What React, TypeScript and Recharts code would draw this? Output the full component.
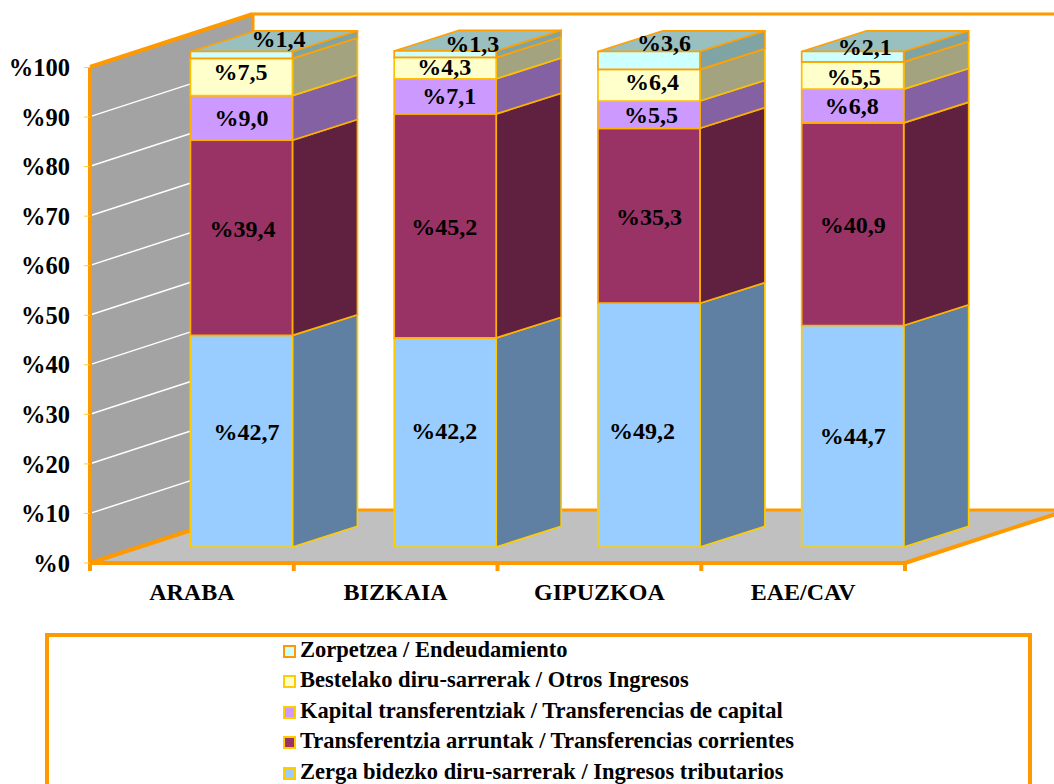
import React from 'react';
import { BarChart, Bar, XAxis, YAxis, Legend, LabelList, Customized } from 'recharts';

const categories = ['ARABA', 'BIZKAIA', 'GIPUZKOA', 'EAE/CAV'];
const tributarios = [42.7, 42.2, 49.2, 44.7];
const corrientes = [39.4, 45.2, 35.3, 40.9];
const capital = [9.0, 7.1, 5.5, 6.8];
const otros = [7.5, 4.3, 6.4, 5.5];
const endeudamiento = [1.4, 1.3, 3.6, 2.1];
const yTicks = [0, 10, 20, 30, 40, 50, 60, 70, 80, 90, 100];

const rows = categories.map((name, i) => ({
  name,
  tributarios: tributarios[i],
  corrientes: corrientes[i],
  capital: capital[i],
  otros: otros[i],
  endeudamiento: endeudamiento[i],
}));

const FONT = '"Liberation Serif", "Times New Roman", serif';
const ORANGE = '#FF9900';
const W = 1054;
const H = 784;
const PLOT = { left: 90, right: 905, top: 67, bottom: 563 };
const DEPTH = { dx: 163, dy: 53 };
const BAR_SHIFT = { x: 49.5, y: -16 };
const BAR_DEPTH = { dx: 65, dy: 20.7 };

// hand-placed label offsets from the centre of each front face, as in the original chart
const NUDGE: Record<string, [number, number][]> = {
  tributarios: [[5, -9], [-1, -11], [-7, 6], [0, 0]],
  corrientes: [[1, -9], [-1, 1], [0, 1], [0, 1]],
  capital: [[0, 0], [4, 0], [2, 0], [-1, 0]],
  otros: [[-1, -5], [-1, -1], [3, -3], [1, 1]],
  endeudamiento: [[37, -16], [27, -10], [15, -17], [12, -10]],
};

const fmt = (v: number) => '%' + v.toFixed(1).replace('.', ',');

function Backdrop() {
  const { left, right, top, bottom } = PLOT;
  const { dx, dy } = DEPTH;
  const pxPerUnit = (bottom - top) / 100;
  const band = (right - left) / categories.length;
  const backY = bottom - dy;
  return (
    <g>
      <polygon points={`${left},${top} ${left + dx},${top - dy} ${left + dx},${backY} ${left},${bottom}`} fill="#A3A3A3" />
      <polygon points={`${left},${bottom} ${left + dx},${backY} ${right + dx},${backY} ${right},${bottom}`} fill="#C0C0C0" />
      {yTicks.slice(1, -1).map((t) => {
        const y = bottom - t * pxPerUnit;
        return <line key={t} x1={left} y1={y} x2={left + dx} y2={y - dy} stroke="#FFFFFF" strokeWidth={1.5} />;
      })}
      <line x1={left} y1={top} x2={left + dx} y2={top - dy} stroke={ORANGE} strokeWidth={4} />
      <line x1={left + dx} y1={top - dy} x2={W} y2={top - dy} stroke={ORANGE} strokeWidth={3} />
      <line x1={left + dx} y1={top - dy} x2={left + dx} y2={backY} stroke={ORANGE} strokeWidth={3} />
      <line x1={left} y1={bottom} x2={left + dx} y2={backY} stroke={ORANGE} strokeWidth={4} />
      <line x1={left + dx} y1={backY} x2={W} y2={backY} stroke={ORANGE} strokeWidth={3} />
      <line x1={right} y1={bottom} x2={right + dx} y2={backY} stroke={ORANGE} strokeWidth={4} />
      {[0, 1, 2, 3, 4].map((i) => (
        <line key={i} x1={left + band * i} y1={bottom} x2={left + band * i} y2={bottom + 8} stroke={ORANGE} strokeWidth={4} />
      ))}
    </g>
  );
}

function Bar3D(props: any) {
  const { x, y, width, height, frontFill, sideFill, topFill, edge } = props;
  const fx = x + BAR_SHIFT.x;
  const fy = y + BAR_SHIFT.y;
  const { dx, dy } = BAR_DEPTH;
  const r = fx + width;
  const b = fy + height;
  return (
    <g stroke={edge} strokeWidth={1.7} strokeLinejoin="round">
      <polygon points={`${r},${fy} ${r + dx},${fy - dy} ${r + dx},${b - dy} ${r},${b}`} fill={sideFill} />
      {topFill ? <polygon points={`${fx},${fy} ${fx + dx},${fy - dy} ${r + dx},${fy - dy} ${r},${fy}`} fill={topFill} /> : null}
      <rect x={fx} y={fy} width={width} height={height} fill={frontFill} />
    </g>
  );
}

function makeLabel(key: string) {
  return function SegmentLabel(props: any) {
    const { x, y, width, height, value, index } = props;
    const [nx, ny] = NUDGE[key][index];
    return (
      <text
        x={x + BAR_SHIFT.x + width / 2 + nx}
        y={y + BAR_SHIFT.y + height / 2 + ny}
        textAnchor="middle"
        dominantBaseline="central"
        fontFamily={FONT}
        fontWeight="bold"
        fontSize={24}
        fill="#000000"
      >
        {fmt(value)}
      </text>
    );
  };
}

function LegendBox(props: any) {
  const items = [...(props.payload || [])].reverse();
  return (
    <div
      style={{
        position: 'absolute',
        left: 0,
        top: 0,
        width: '100%',
        height: '100%',
        boxSizing: 'border-box',
        border: `4px solid ${ORANGE}`,
        fontFamily: FONT,
        fontWeight: 'bold',
        fontSize: 22.5,
        color: '#000',
      }}
    >
      {items.map((it: any, i: number) => (
        <div key={it.value} style={{ position: 'absolute', left: 234, top: -2 + i * 30.4, height: 30, lineHeight: '30px', whiteSpace: 'nowrap' }}>
          <span
            style={{
              display: 'inline-block',
              boxSizing: 'border-box',
              width: 13,
              height: 13,
              marginRight: 4,
              verticalAlign: -1,
              background: it.color,
              border: `2px solid ${i === 0 ? ORANGE : '#FFCC00'}`,
            }}
          />
          {it.value}
        </div>
      ))}
    </div>
  );
}

const series = [
  { key: 'tributarios', name: 'Zerga bidezko diru-sarrerak / Ingresos tributarios', front: '#99CCFF', side: '#6080A3', edge: '#FFCC00' },
  { key: 'corrientes', name: 'Transferentzia arruntak / Transferencias corrientes', front: '#993366', side: '#60203F', edge: '#FFB000' },
  { key: 'capital', name: 'Kapital transferentziak / Transferencias de capital', front: '#CC99FF', side: '#8361A3', edge: '#FFB000' },
  { key: 'otros', name: 'Bestelako diru-sarrerak / Otros Ingresos', front: '#FFFFCC', side: '#A3A380', edge: '#FFC000' },
  { key: 'endeudamiento', name: 'Zorpetzea / Endeudamiento', front: '#CCFFFF', side: '#80A3A3', edge: '#FFA000', top: '#9ABFBF' },
];

export default function App() {
  return (
    <div style={{ position: 'absolute', left: 0, top: 0, width: W, height: H, overflow: 'hidden', background: '#fff' }}>
      <BarChart
        width={W}
        height={H}
        data={rows}
        barCategoryGap="25%"
        margin={{ top: PLOT.top, right: W - PLOT.right, bottom: 0, left: 0 }}
      >
        <Customized component={Backdrop} />
        <XAxis
          dataKey="name"
          height={H - PLOT.bottom}
          axisLine={{ stroke: ORANGE, strokeWidth: 4 }}
          tickLine={false}
          tickMargin={14}
          interval={0}
          tick={{ fontFamily: FONT, fontWeight: 'bold', fontSize: 24, fill: '#000' }}
        />
        <YAxis
          width={PLOT.left}
          domain={[0, 100]}
          ticks={yTicks}
          interval={0}
          tickFormatter={(v: number) => '%' + v}
          axisLine={{ stroke: ORANGE, strokeWidth: 4 }}
          tickLine={{ stroke: '#FFCC33', strokeWidth: 1 }}
          tickSize={6}
          tickMargin={14}
          tick={{ fontFamily: FONT, fontWeight: 'bold', fontSize: 24.5, fill: '#000' }}
        />
        <Legend
          layout="vertical"
          align="center"
          verticalAlign="middle"
          itemSorter={null}
          content={LegendBox}
          wrapperStyle={{ position: 'absolute', left: 45, top: 633, width: 987, height: 170, margin: 0 }}
        />
        {series.map((s) => (
          <Bar
            key={s.key}
            dataKey={s.key}
            name={s.name}
            stackId="a"
            fill={s.front}
            isAnimationActive={false}
            shape={(p: any) => <Bar3D {...p} frontFill={s.front} sideFill={s.side} topFill={s.top} edge={s.edge} />}
          >
            <LabelList dataKey={s.key} content={makeLabel(s.key)} />
          </Bar>
        ))}
      </BarChart>
    </div>
  );
}
